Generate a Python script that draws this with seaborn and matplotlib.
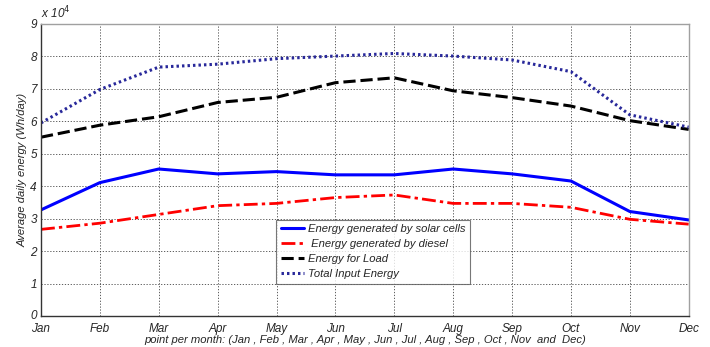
import matplotlib
matplotlib.use("Agg")
import matplotlib.pyplot as plt
import matplotlib.transforms as mtransforms
import seaborn as sns
import pandas as pd

months = ["Jan", "Feb", "Mar", "Apr", "May", "Jun", "Jul", "Aug", "Sep", "Oct", "Nov", "Dec"]
solar = [3.27, 4.11, 4.53, 4.38, 4.45, 4.35, 4.35, 4.53, 4.38, 4.16, 3.22, 2.96]
diesel = [2.67, 2.86, 3.13, 3.40, 3.47, 3.65, 3.73, 3.47, 3.47, 3.35, 2.98, 2.83]
load = [5.51, 5.88, 6.14, 6.58, 6.74, 7.19, 7.34, 6.94, 6.73, 6.47, 6.02, 5.75]
total = [5.95, 6.98, 7.67, 7.76, 7.93, 8.01, 8.09, 8.01, 7.89, 7.53, 6.20, 5.82]
labels = ["Energy generated by solar cells", " Energy generated by diesel",
          "Energy for Load", "Total Input Energy"]
yticks = [0, 1, 2, 3, 4, 5, 6, 7, 8, 9]

sns.set_style("white")
plt.rcParams['font.family'] = ['Liberation Sans', 'DejaVu Sans']

fig = plt.figure(figsize=(7.1, 3.47), dpi=100)
ax = fig.add_axes([0.0577, 0.0893, 0.9123, 0.8417])

x = list(range(len(months)))
styles = [
    dict(color="#0000FF", linestyle="-", linewidth=2.2),
    dict(color="#FF0000", linestyle=(0, (5, 1.5, 1.2, 1.5)), linewidth=2.0),
    dict(color="#000000", linestyle=(0, (4, 1.6)), linewidth=2.2),
    dict(color="#28289A", linestyle=(0, (0.8, 1.0)), linewidth=2.2),
]
for series, lab, st in zip([solar, diesel, load, total], labels, styles):
    df = pd.DataFrame({"m": x, "v": series})
    sns.lineplot(data=df, x="m", y="v", ax=ax, label=lab, **st)

ax.set_xlim(0, 11)
ax.set_ylim(0, 9)
ax.set_xticks(x)
ax.set_xticklabels(months, fontstyle="italic", fontsize=8.5)
ax.set_yticks(yticks)
ax.set_yticklabels([str(v) for v in yticks], fontstyle="italic", fontsize=8.5)
ax.tick_params(axis="y", direction="in", length=3, color="#555555", pad=3)
ax.tick_params(axis="x", direction="in", length=3, color="#555555", pad=5)
# nudge the "0" label up slightly so it sits just above "Jan", as in the reference
zero_lbl = ax.get_yticklabels()[0]
zero_lbl.set_transform(zero_lbl.get_transform() +
                       mtransforms.ScaledTranslation(0, 2 / 100, fig.dpi_scale_trans))
ax.grid(True, linestyle=(0, (1.5, 2)), color="#444444", linewidth=0.6)
for name, s in ax.spines.items():
    s.set_linewidth(1.0)
    s.set_color("#333333" if name in ("left", "bottom") else "#a0a0a0")

ax.set_xlabel("point per month: (Jan , Feb , Mar , Apr , May , Jun , Jul , Aug , Sep , Oct , Nov  and  Dec)",
              fontstyle="italic", fontsize=8.1, labelpad=0)
ax.set_ylabel("Average daily energy (Wh/day)", fontstyle="italic", fontsize=8.1, labelpad=2)
ax.text(0.0, 1.01, r"x 10$^{4}$", transform=ax.transAxes, fontstyle="italic",
        fontsize=8.5, ha="left", va="bottom")

leg = ax.legend(loc="lower left", bbox_to_anchor=(0.363, 0.11), fontsize=8.1,
                frameon=True, fancybox=False, borderpad=0.4, labelspacing=0.45,
                handlelength=2.1, handletextpad=0.35, borderaxespad=0)
leg.get_frame().set_edgecolor("#555555")
leg.get_frame().set_linewidth(0.8)
for t in leg.get_texts():
    t.set_fontstyle("italic")

fig.savefig("out.png", dpi=100)
